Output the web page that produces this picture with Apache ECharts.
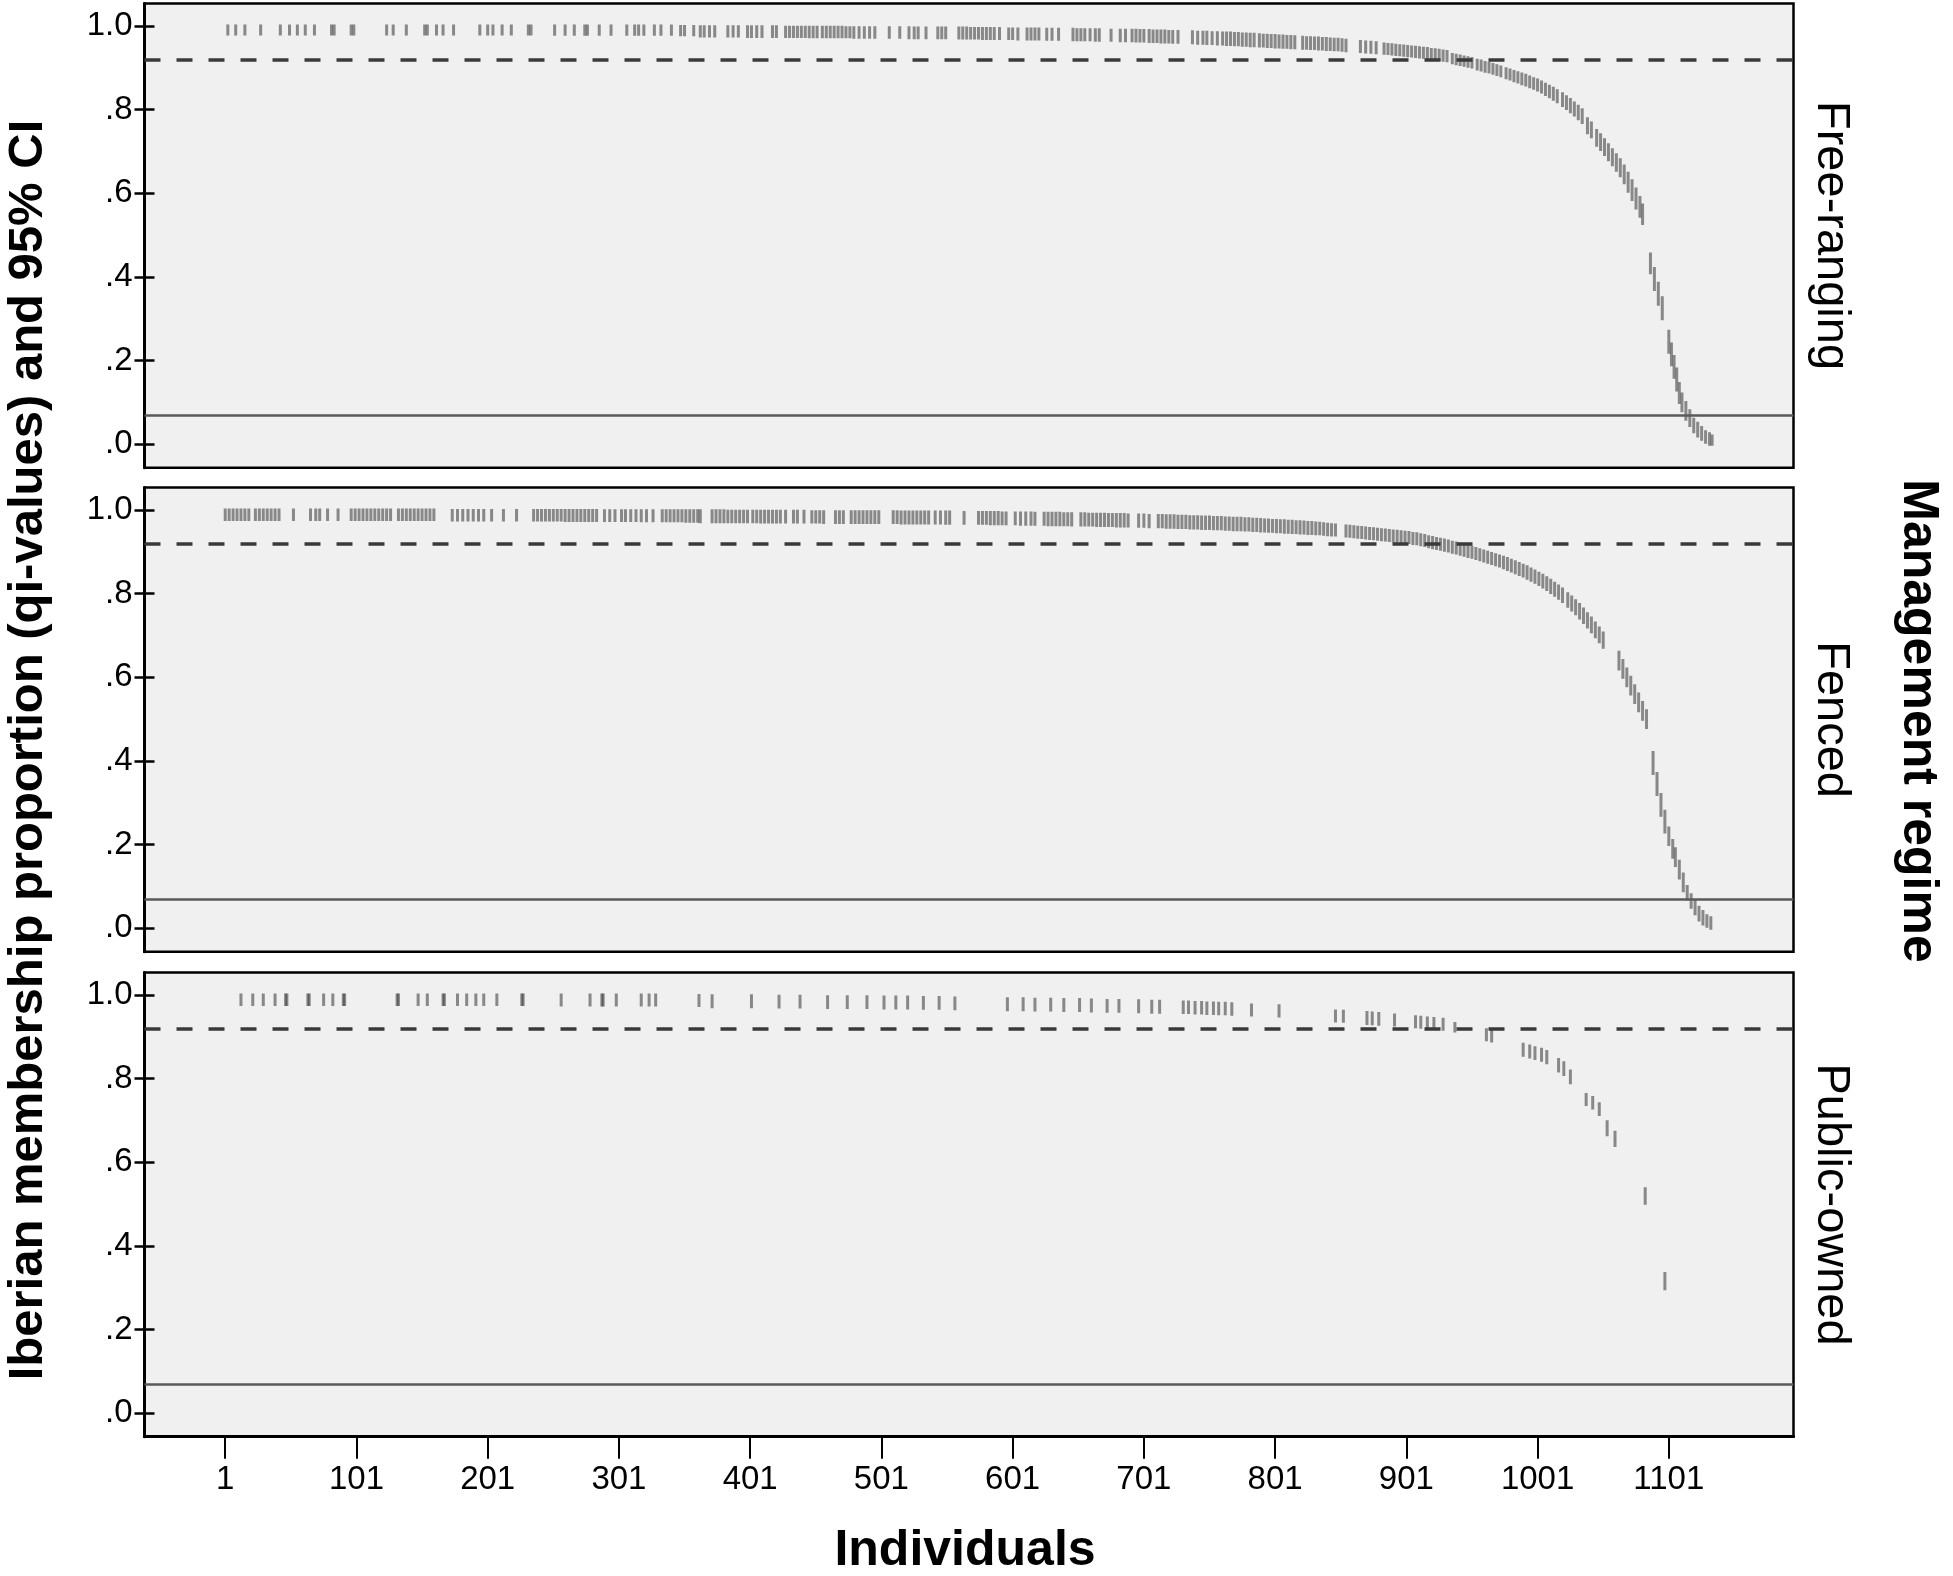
<!DOCTYPE html>
<html><head><meta charset="utf-8">
<script src="https://cdn.jsdelivr.net/npm/echarts@6/dist/echarts.min.js"></script>
<style>html,body{margin:0;padding:0;background:#fff}#c{width:1953px;height:1576px}</style>
</head><body><div id="c"></div>
<script>
// ---- data ----
const panels = ['Free-ranging', 'Fenced', 'Public-owned'];
const xTicks = [1, 101, 201, 301, 401, 501, 601, 701, 801, 901, 1001, 1101];
const yTicks = [0, 0.2, 0.4, 0.6, 0.8, 1.0];
const yTickLabels = ['.0', '.2', '.4', '.6', '.8', '1.0'];
const refUpper = 0.915;
const refLower = 0.068;
const yTitle = 'Iberian membership proportion (qi-values) and 95% CI';
const xTitle = 'Individuals';
const facetTitle = 'Management regime';

// [individual, lower 95% CI, upper 95% CI]
const freeRanging = [
[3,.981,1],[9,.981,1],[16,.981,1],[28,.981,1],[43,.981,1],[50,.981,1],[56,.981,1],[62,.981,1],[69,.981,1],[82,.981,1],[84,.981,1],[97,.981,1],[99,.981,1],[124,.981,1],[129,.981,1],[139,.981,1],[153,.981,1],[155,.981,1],[162,.981,1],[167,.981,1],[175,.981,1],[195,.981,1],[201,.981,1],[205,.981,1],[212,.981,1],[219,.981,1],[232,.981,1],[234,.981,1],[252,.98,1],[260,.98,1],[267,.98,1],[275,.98,1],[277,.98,1],[286,.98,1],[295,.98,1],[307,.98,1],[313,.98,1],[316,.98,1],[320,.98,1],[328,.98,1],[333,.98,1],[341,.98,1],[348,.979,.999],[351,.979,.999],[358,.979,.999],
[363,.976,.998],[366,.976,.998],[370,.976,.998],[374,.976,.998],[384,.976,.998],[388,.976,.998],[392,.976,.998],[399,.975,.998],[402,.975,.998],[406,.975,.998],[410,.975,.998],[418,.975,.998],[421,.975,.998],[428,.975,.997],[431,.975,.997],[434,.975,.997],[437,.975,.997],[440,.975,.997],[443,.975,.997],[446,.974,.997],[449,.974,.997],[452,.974,.997],[456,.974,.997],[459,.974,.997],[462,.974,.997],[465,.974,.997],[468,.974,.997],[471,.974,.997],[474,.974,.996],[477,.974,.996],[480,.973,.996],[484,.973,.996],[488,.973,.996],[492,.973,.996],[496,.973,.996],[507,.973,.996],[515,.973,.996],[522,.972,.996],[526,.972,.995],[529,.972,.995],[535,.972,.995],[544,.972,.995],[547,.972,.995],[550,.972,.995],
[560,.971,.995],[563,.971,.995],[566,.971,.995],[569,.971,.994],[572,.971,.994],[575,.971,.994],[578,.97,.994],[581,.97,.994],[584,.97,.994],[587,.97,.994],[591,.97,.994],[598,.97,.993],[601,.97,.993],[605,.969,.993],[612,.969,.993],[615,.969,.993],[618,.969,.993],[621,.969,.993],[627,.968,.992],[631,.968,.992],[636,.968,.992],[647,.967,.992],[650,.967,.991],[653,.967,.991],[656,.967,.991],[660,.967,.991],[664,.966,.991],[667,.966,.991],[676,.966,.99],[683,.965,.99],[687,.965,.99],[692,.965,.99],[695,.964,.99],[698,.964,.989],
[701,.964,.989],[705,.963,.989],[708,.963,.988],[711,.963,.988],[714,.962,.988],[717,.962,.988],[720,.962,.987],[723,.961,.987],[727,.961,.987],[738,.96,.986],[742,.959,.985],[746,.959,.985],[749,.958,.985],[753,.958,.984],[757,.957,.984],[761,.957,.983],[764,.956,.983],[767,.956,.983],[770,.955,.982],[773,.955,.982],[776,.954,.981],[779,.954,.981],[782,.953,.98],[785,.953,.98],[789,.952,.979],
[792,.952,.978],[795,.951,.978],[798,.951,.977],[801,.95,.977],[804,.95,.976],[807,.949,.976],[810,.949,.975],[813,.948,.975],[816,.948,.974],[822,.947,.973],[825,.947,.972],[828,.946,.972],[831,.946,.971],[834,.945,.971],[837,.945,.97],[840,.944,.97],[843,.944,.969],[846,.943,.968],[849,.943,.968],[852,.942,.967],[855,.941,.966],[866,.939,.963],[870,.938,.962],[874,.937,.961],[878,.936,.96],
[884,.935,.957],[887,.934,.956],[890,.933,.955],[893,.932,.954],[896,.931,.953],[899,.93,.952],[902,.929,.951],[905,.928,.95],[908,.927,.949],[911,.926,.948],[914,.925,.947],[917,.924,.946],[920,.922,.944],[923,.921,.943],[926,.92,.942],[929,.918,.94],[932,.917,.939],
[936,.912,.932],[939,.91,.93],[942,.908,.928],[945,.906,.926],[948,.904,.924],[951,.902,.922],[955,.897,.918],[958,.895,.916],[961,.892,.913],[964,.89,.911],[967,.887,.908],[970,.884,.905],[973,.881,.902],[977,.876,.898],[980,.873,.895],
[983,.869,.891],[986,.866,.888],[989,.862,.885],[992,.859,.882],[995,.855,.878],[998,.851,.874],[1001,.847,.871],[1004,.842,.866],[1007,.836,.861],[1010,.831,.856],[1013,.825,.851],[1016,.819,.845],[1020,.81,.838],[1023,.803,.831],[1026,.795,.824],[1029,.787,.816],[1032,.778,.808],[1035,.769,.8],[1039,.745,.778],[1042,.735,.768],
[1046,.715,.75],[1049,.705,.74],[1052,.693,.728],[1055,.68,.716],[1058,.668,.704],[1061,.655,.692],[1064,.642,.68],[1067,.625,.665],[1070,.605,.648],[1073,.585,.63],[1076,.565,.61],[1079,.545,.59],[1081,.528,.572],
[1087,.41,.455],[1090,.37,.42],[1093,.335,.385],[1096,.3,.35],[1101,.22,.27],[1103,.19,.24],[1105,.16,.21],[1107,.13,.18],[1109,.1,.145],[1111,.08,.12],[1114,.06,.1],[1117,.045,.08],[1120,.03,.06],[1123,.02,.05],[1126,.012,.04],[1129,.005,.03],[1132,0,.025],[1134,0,.02]
];

const fenced = [
[1,.977,1],[4,.977,1],[7,.977,1],[10,.977,1],[13,.977,1],[16,.977,1],[19,.977,1],[24,.977,1],[27,.977,1],[30,.977,1],[33,.977,1],[36,.977,1],[39,.977,1],[42,.977,1],
[53,.977,1],[66,.977,1],[70,.977,1],[73,.977,1],[79,.977,1],[87,.977,1],
[97,.977,1],[100,.977,1],[103,.977,1],[106,.977,1],[109,.977,1],[112,.977,1],[115,.977,1],[118,.977,1],[121,.977,1],[124,.977,1],[127,.977,1],[133,.977,1],[136,.977,1],[139,.977,1],[142,.977,1],[145,.977,1],[148,.977,1],[151,.977,1],[154,.977,1],[157,.977,1],[160,.977,1],
[174,.976,.999],[178,.976,.999],[182,.976,.999],[186,.976,.999],[190,.976,.999],[194,.976,.999],[198,.976,.999],[204,.976,.999],[213,.976,.999],[223,.976,.999],
[236,.976,.999],[239,.976,.999],[242,.976,.999],[245,.976,.999],[248,.976,.999],[251,.976,.999],[254,.976,.999],[257,.976,.999],[260,.975,.999],[263,.975,.999],[266,.975,.999],[269,.975,.999],[272,.975,.999],[275,.975,.999],[278,.975,.999],[281,.975,.999],[284,.975,.999],
[290,.975,.998],[294,.975,.998],[298,.975,.998],[303,.975,.998],[306,.975,.998],[310,.975,.998],[314,.975,.998],[318,.974,.998],[322,.974,.998],[327,.974,.998],
[334,.974,.998],[337,.974,.998],[340,.974,.998],[343,.974,.998],[346,.974,.998],[349,.974,.998],[352,.973,.998],[355,.973,.998],[358,.973,.998],[361,.973,.998],
[363,.972,.998],[372,.972,.998],[375,.972,.998],[378,.972,.998],[381,.972,.998],[384,.972,.997],[387,.972,.997],[390,.972,.997],[393,.972,.997],[396,.972,.997],[399,.972,.997],
[403,.972,.997],[406,.972,.997],[409,.971,.997],[412,.971,.997],[415,.971,.997],[418,.971,.997],[421,.971,.997],[424,.971,.997],[428,.971,.997],
[434,.971,.997],[437,.971,.997],[442,.971,.997],[448,.971,.996],[451,.971,.996],[454,.971,.996],[457,.97,.996],[466,.97,.996],[469,.97,.996],[472,.97,.996],[478,.97,.996],[481,.97,.996],[484,.97,.996],[487,.97,.996],[490,.97,.996],[493,.97,.996],[496,.97,.996],[499,.97,.996],
[510,.97,.996],[513,.97,.996],[516,.969,.995],[519,.969,.995],[522,.969,.995],[525,.969,.995],[528,.969,.995],[531,.969,.995],[534,.969,.995],[537,.969,.995],[542,.969,.995],[546,.969,.995],[550,.968,.995],[553,.968,.995],[564,.968,.994],
[575,.968,.994],[578,.968,.994],[581,.968,.994],[584,.967,.994],[587,.967,.994],[590,.967,.994],[593,.967,.993],[596,.967,.993],[603,.967,.993],[607,.966,.993],[611,.966,.993],[615,.966,.993],[618,.966,.992],[625,.966,.992],[628,.965,.992],[631,.965,.992],[634,.965,.992],[637,.965,.992],[640,.965,.991],[643,.965,.991],[646,.964,.991],
[653,.964,.991],[656,.964,.991],[659,.964,.99],[662,.964,.99],[665,.963,.99],[668,.963,.99],[671,.963,.99],[674,.963,.989],[677,.963,.989],[680,.962,.989],[683,.962,.989],[686,.962,.989],[689,.962,.988],[697,.961,.988],[701,.961,.988],[705,.96,.987],
[712,.96,.987],[715,.96,.987],[718,.959,.986],[721,.959,.986],[724,.959,.986],[727,.958,.985],[730,.958,.985],[733,.958,.985],[736,.957,.984],[739,.957,.984],[742,.957,.984],[745,.956,.983],[748,.956,.983],[751,.956,.983],[754,.955,.982],[757,.955,.982],[760,.955,.982],[763,.954,.981],[766,.954,.981],[769,.953,.98],[772,.953,.98],[775,.953,.98],[778,.952,.979],[781,.952,.979],[784,.951,.978],[787,.951,.978],
[790,.95,.977],[793,.95,.976],[796,.949,.976],[799,.949,.975],[802,.948,.975],[805,.948,.974],[808,.947,.974],[811,.947,.973],[814,.946,.973],[817,.946,.972],[820,.945,.972],[823,.945,.971],[826,.944,.97],[829,.944,.97],[832,.943,.969],[835,.943,.968],[838,.942,.967],[841,.941,.966],[844,.94,.965],[847,.94,.964],
[855,.938,.962],[858,.937,.961],[861,.936,.96],[864,.935,.959],[867,.934,.958],[870,.933,.957],[873,.932,.956],[876,.931,.955],[879,.93,.954],[882,.929,.953],[885,.928,.952],[888,.927,.951],[891,.926,.95],[894,.925,.949],[897,.924,.948],[900,.923,.947],[903,.922,.946],[906,.92,.944],[909,.919,.943],[912,.917,.941],[915,.915,.939],
[918,.912,.936],[921,.91,.934],[924,.908,.932],[927,.906,.93],[930,.904,.928],[933,.902,.926],[936,.899,.923],[939,.897,.921],[942,.894,.918],[945,.892,.916],
[948,.889,.913],[951,.887,.911],[954,.884,.908],[957,.881,.905],[960,.878,.902],[963,.875,.899],[966,.872,.896],[969,.869,.893],[972,.866,.89],[975,.862,.887],
[978,.858,.884],[981,.854,.88],[984,.85,.876],[987,.846,.872],[990,.842,.868],[993,.837,.864],[996,.832,.859],[999,.827,.854],[1002,.822,.849],[1005,.816,.844],[1008,.81,.838],[1011,.803,.832],[1014,.796,.825],[1017,.789,.818],[1020,.781,.811],
[1024,.77,.8],[1027,.761,.792],[1030,.752,.783],[1033,.742,.774],[1036,.731,.763],[1039,.72,.752],[1042,.709,.742],[1045,.697,.73],[1048,.685,.718],[1051,.672,.706],
[1063,.62,.66],[1066,.6,.64],[1069,.58,.62],[1072,.56,.6],[1075,.54,.58],[1078,.52,.56],[1081,.5,.54],[1084,.48,.52],
[1089,.37,.42],[1092,.32,.37],[1095,.27,.32],[1098,.23,.28],[1101,.2,.24],[1104,.17,.21],[1106,.15,.19],[1109,.12,.16],[1112,.09,.13],[1115,.07,.1],[1118,.05,.08],[1121,.035,.065],[1124,.02,.05],[1127,.01,.04],[1130,.005,.03],[1133,0,.025]
];

const publicOwned = [
[13,.977,1],[22,.977,1],[30,.977,1],[39,.977,1],[47,.977,1],[48,.977,1],[64,.977,1],[65,.977,1],[76,.977,1],[83,.977,1],[91,.977,1],[92,.977,1],[132,.977,1],[133,.977,1],[148,.977,1],[155,.977,1],[167,.977,1],[168,.977,1],[178,.977,1],[185,.977,1],[192,.977,1],[198,.977,1],[208,.977,1],[227,.977,1],[228,.977,1],[257,.976,1],[279,.976,1],[288,.976,1],[289,.976,1],[299,.976,1],[318,.976,1],[324,.976,1],[329,.976,1],[362,.975,.999],
[372,.972,.998],[402,.972,.998],[423,.971,.997],[439,.971,.997],[460,.97,.996],[475,.97,.996],[490,.97,.996],[503,.969,.995],[512,.969,.995],[521,.969,.995],[533,.968,.994],[545,.968,.994],[557,.967,.993],
[597,.965,.991],[609,.965,.991],[618,.964,.99],[630,.964,.99],[640,.963,.989],[652,.963,.989],[661,.962,.988],[673,.961,.987],[682,.961,.987],[697,.96,.986],[707,.959,.985],[713,.959,.985],[731,.958,.983],[735,.958,.983],[740,.957,.982],[745,.957,.982],[749,.956,.981],[754,.956,.981],[758,.955,.98],[763,.955,.98],[768,.954,.979],[783,.952,.976],[804,.95,.974],
[847,.938,.962],[853,.937,.961],[871,.932,.958],[875,.931,.957],[880,.93,.956],[892,.928,.952],[908,.924,.948],[912,.923,.947],[917,.921,.945],[922,.92,.944],[929,.918,.942],[938,.914,.932],
[962,.893,.917],[966,.89,.914],[990,.856,.882],[995,.852,.878],[999,.848,.874],[1004,.844,.87],[1008,.838,.865],[1017,.818,.846],[1021,.81,.838],[1026,.79,.818],
[1038,.738,.762],[1043,.73,.755],[1048,.714,.74],[1054,.666,.697],[1060,.64,.672],[1083,.502,.537],[1098,.298,.334]
];

const panelData = [freeRanging, fenced, publicOwned];

// ---- layout ----
const FONT = '"Liberation Sans", Arial, Helvetica, sans-serif';
const gridLeft = 144.5, gridWidth = 1649, gridHeight = 464.3;
const gridTops = [3.4, 487.4, 972.4];
const xMin = -60.5, xMax = 1196;
const yMin = -0.056, yMax = 1.054;

const grids = [], xAxes = [], yAxes = [], series = [], graphics = [];

gridTops.forEach((top, i) => {
  grids.push({left: gridLeft, top: top, width: gridWidth, height: gridHeight,
    show: true, backgroundColor: '#f0f0f0', borderColor: '#000', borderWidth: 2.5});
  const isBottom = i === gridTops.length - 1;
  xAxes.push({
    gridIndex: i, type: 'value', min: xMin, max: xMax, show: isBottom,
    splitLine: {show: false},
    axisLine: {show: true, onZero: false, lineStyle: {color: '#000', width: 3}},
    axisTick: {show: true, length: 22, lineStyle: {color: '#000', width: 2}, customValues: xTicks},
    axisLabel: {show: true, customValues: xTicks, fontSize: 33, color: '#000', fontFamily: FONT, margin: 27,
      formatter: v => String(Math.round(v))}
  });
  yAxes.push({
    gridIndex: i, type: 'value', min: yMin, max: yMax, position: 'left',
    splitLine: {show: false},
    axisLine: {show: true, onZero: false, lineStyle: {color: '#000', width: 3}},
    axisTick: {show: true, length: 10, lineStyle: {color: '#000', width: 2.5}, customValues: yTicks},
    axisLabel: {show: true, customValues: yTicks, fontSize: 33, color: '#000', fontFamily: FONT, margin: 12,
      padding: [12, 0, 0, 0],
      formatter: v => { const k = yTicks.findIndex(t => Math.abs(t - v) < 1e-6); return k >= 0 ? yTickLabels[k] : ''; }}
  });
  series.push({
    type: 'custom', name: panels[i], xAxisIndex: i, yAxisIndex: i,
    data: panelData[i], encode: {x: 0, y: [1, 2]}, clip: true, z: 3,
    renderItem: (params, api) => {
      const x = api.value(0);
      const a = api.coord([x, api.value(1)]);
      const b = api.coord([x, api.value(2)]);
      return {type: 'line', shape: {x1: a[0], y1: a[1] + 1.5, x2: b[0], y2: b[1] - 1.5},
        style: {stroke: 'rgba(60,60,60,0.58)', lineWidth: 3}};
    },
    markLine: {
      silent: true, symbol: ['none', 'none'], label: {show: false}, animation: false,
      data: [
        {yAxis: refUpper, lineStyle: {type: [16, 16], color: '#3a3a3a', width: 3.5}},
        {yAxis: refLower, lineStyle: {type: 'solid', color: '#5a5a5a', width: 2.5}}
      ]
    }
  });
  graphics.push({type: 'text', x: 1831, y: top + gridHeight / 2, rotation: -Math.PI / 2,
    style: {text: panels[i], font: '47px ' + FONT, fill: '#000', align: 'center', verticalAlign: 'middle'}});
});

// inward half of the y ticks
gridTops.forEach((top, i) => {
  yAxes.push({
    gridIndex: i, type: 'value', min: yMin, max: yMax, position: 'left',
    splitLine: {show: false}, axisLine: {show: false, onZero: false}, axisLabel: {show: false},
    axisTick: {show: true, inside: true, length: 10, lineStyle: {color: '#000', width: 2.5}, customValues: yTicks}
  });
});

graphics.push(
  {type: 'text', x: 28, y: 750, rotation: Math.PI / 2,
    style: {text: yTitle, font: 'bold 49px ' + FONT, fill: '#000', align: 'center', verticalAlign: 'middle'}},
  {type: 'text', x: 965, y: 1551,
    style: {text: xTitle, font: 'bold 50px ' + FONT, fill: '#000', align: 'center', verticalAlign: 'middle'}},
  {type: 'text', x: 1918, y: 721, rotation: -Math.PI / 2,
    style: {text: facetTitle, font: 'bold 50px ' + FONT, fill: '#000', align: 'center', verticalAlign: 'middle'}}
);

const chart = echarts.init(document.getElementById('c'), null, {renderer: 'canvas'});
chart.setOption({
  backgroundColor: '#ffffff',
  animation: false,
  grid: grids, xAxis: xAxes, yAxis: yAxes, series: series, graphic: graphics
});
</script></body></html>
